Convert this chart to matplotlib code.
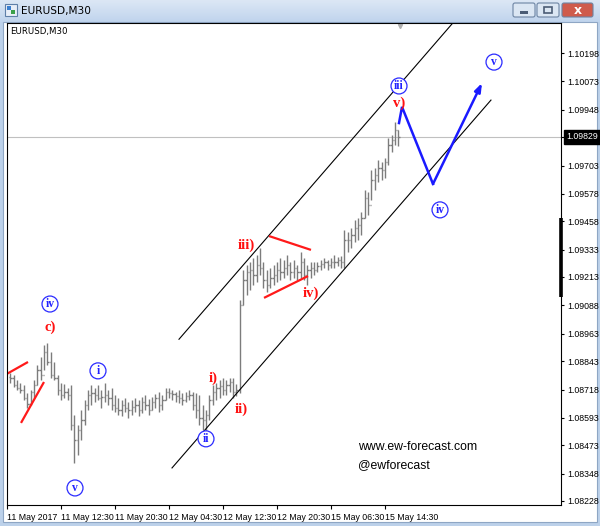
import matplotlib
matplotlib.use("Agg")
import matplotlib.pyplot as plt
import matplotlib.transforms as mtransforms
from matplotlib.patches import Rectangle, FancyBboxPatch
from matplotlib.colors import LinearSegmentedColormap
import numpy as np

# ---------------- data ----------------
bar_high = [1.08791, 1.08782, 1.08760, 1.08747, 1.08738, 1.08703, 1.08716, 1.08760, 1.08826, 1.08861,
            1.08914, 1.08923, 1.08883, 1.08839, 1.08782, 1.08747, 1.08743, 1.08725, 1.08738, 1.08606,
            1.08562, 1.08628, 1.08672, 1.08716, 1.08738, 1.08725, 1.08738, 1.08716, 1.08747, 1.08716,
            1.08725, 1.08694, 1.08681, 1.08672, 1.08681, 1.08663, 1.08672, 1.08681, 1.08672, 1.08685,
            1.08694, 1.08677, 1.08685, 1.08699, 1.08707, 1.08694, 1.08725, 1.08725, 1.08716, 1.08707,
            1.08716, 1.08703, 1.08707, 1.08716, 1.08707, 1.08703, 1.08694, 1.08650, 1.08628, 1.08694,
            1.08738, 1.08747, 1.08760, 1.08769, 1.08760, 1.08769, 1.08769, 1.08743, 1.09112, 1.09244,
            1.09266, 1.09279, 1.09297, 1.09310, 1.09341, 1.09279, 1.09244, 1.09253, 1.09266, 1.09279,
            1.09297, 1.09288, 1.09310, 1.09279, 1.09288, 1.09266, 1.09323, 1.09297, 1.09266, 1.09279,
            1.09279, 1.09279, 1.09288, 1.09297, 1.09288, 1.09297, 1.09310, 1.09301, 1.09305, 1.09420,
            1.09411, 1.09429, 1.09464, 1.09473, 1.09499, 1.09596, 1.09587, 1.09684, 1.09692, 1.09728,
            1.09719, 1.09736, 1.09824, 1.09837, 1.09895, 1.09859]
bar_low = [1.08747, 1.08729, 1.08716, 1.08703, 1.08672, 1.08637, 1.08650, 1.08681, 1.08738, 1.08760,
           1.08804, 1.08826, 1.08769, 1.08760, 1.08694, 1.08672, 1.08681, 1.08672, 1.08540, 1.08395,
           1.08430, 1.08496, 1.08562, 1.08628, 1.08650, 1.08663, 1.08672, 1.08637, 1.08663, 1.08650,
           1.08628, 1.08619, 1.08606, 1.08602, 1.08619, 1.08593, 1.08606, 1.08619, 1.08602, 1.08615,
           1.08628, 1.08606, 1.08628, 1.08637, 1.08619, 1.08628, 1.08672, 1.08681, 1.08672, 1.08663,
           1.08659, 1.08650, 1.08663, 1.08672, 1.08628, 1.08593, 1.08562, 1.08540, 1.08531, 1.08584,
           1.08650, 1.08672, 1.08681, 1.08694, 1.08694, 1.08707, 1.08681, 1.08690, 1.08703, 1.09090,
           1.09134, 1.09156, 1.09178, 1.09191, 1.09222, 1.09165, 1.09147, 1.09165, 1.09178, 1.09191,
           1.09200, 1.09209, 1.09222, 1.09200, 1.09209, 1.09200, 1.09209, 1.09200, 1.09178, 1.09209,
           1.09222, 1.09235, 1.09244, 1.09253, 1.09244, 1.09253, 1.09253, 1.09261, 1.09253, 1.09253,
           1.09323, 1.09341, 1.09367, 1.09376, 1.09398, 1.09473, 1.09486, 1.09552, 1.09596, 1.09631,
           1.09640, 1.09648, 1.09706, 1.09763, 1.09793, 1.09789]
bar_close = [1.08769, 1.08738, 1.08725, 1.08716, 1.08681, 1.08655, 1.08707, 1.08738, 1.08804, 1.08782,
             1.08883, 1.08839, 1.08782, 1.08769, 1.08716, 1.08694, 1.08707, 1.08694, 1.08562, 1.08496,
             1.08540, 1.08584, 1.08650, 1.08694, 1.08703, 1.08694, 1.08681, 1.08685, 1.08694, 1.08681,
             1.08650, 1.08637, 1.08628, 1.08650, 1.08637, 1.08628, 1.08641, 1.08650, 1.08628, 1.08663,
             1.08650, 1.08628, 1.08663, 1.08681, 1.08650, 1.08672, 1.08707, 1.08703, 1.08699, 1.08690,
             1.08681, 1.08672, 1.08690, 1.08694, 1.08650, 1.08628, 1.08593, 1.08584, 1.08606, 1.08672,
             1.08707, 1.08725, 1.08734, 1.08716, 1.08738, 1.08751, 1.08707, 1.08716, 1.09090, 1.09200,
             1.09235, 1.09244, 1.09222, 1.09266, 1.09253, 1.09200, 1.09178, 1.09209, 1.09222, 1.09244,
             1.09235, 1.09253, 1.09266, 1.09235, 1.09253, 1.09235, 1.09279, 1.09222, 1.09244, 1.09253,
             1.09244, 1.09261, 1.09270, 1.09279, 1.09266, 1.09279, 1.09279, 1.09288, 1.09279, 1.09376,
             1.09376, 1.09398, 1.09429, 1.09442, 1.09473, 1.09560, 1.09530, 1.09640, 1.09662, 1.09692,
             1.09684, 1.09719, 1.09793, 1.09815, 1.09859, 1.09829]
first_open = 1.08775
current_price = 1.09829

x_tick_pos = [0, 16, 32, 48, 64, 80, 96, 112]
x_tick_labels = ["11 May 2017", "11 May 12:30", "11 May 20:30", "12 May 04:30",
                 "12 May 12:30", "12 May 20:30", "15 May 06:30", "15 May 14:30"]
y_tick_vals = [1.10198, 1.10073, 1.09948, 1.09703, 1.09578, 1.09458, 1.09333, 1.09213,
               1.09088, 1.08963, 1.08843, 1.08718, 1.08593, 1.08473, 1.08348, 1.08228]

# channel lines (bar index, price)
upper_channel = ([50.96, 132.5], [1.08939, 1.10337])
lower_channel = ([48.89, 143.4], [1.08373, 1.09991])
red_lines = [([0.0, 6.22], [1.08787, 1.08839]),
             ([4.15, 10.96], [1.08571, 1.08751]),
             ([77.63, 90.07], [1.09393, 1.09332]),
             ([76.15, 89.19], [1.09121, 1.09217])]
blue_path_x = [116.15, 117.04, 126.22, 140.74]
blue_path_y = [1.09890, 1.09961, 1.09622, 1.10066]

circled_labels = [("iv", 12.74, 1.09094), ("i", 26.96, 1.08800), ("v", 20.15, 1.08285),
                  ("ii", 58.96, 1.08501), ("iii", 116.15, 1.10053), ("iv", 128.3, 1.09508),
                  ("v", 144.3, 1.10158)]
red_labels = [("c)", 12.74, 1.08993), ("i)", 61.04, 1.08769), ("ii)", 69.33, 1.08633),
              ("iii)", 70.8, 1.09354), ("iv)", 90.07, 1.09143), ("v)", 116.15, 1.09978)]

# ---------------- figure / window chrome ----------------
W, H = 600, 526
fig = plt.figure(figsize=(6.0, 5.26), dpi=100)
fig.patch.set_facecolor('#bcd1ea')

bg = fig.add_axes([0, 0, 1, 1])
bg.set_xlim(0, W)
bg.set_ylim(H, 0)
bg.axis('off')
grad = np.linspace(0, 1, 50).reshape(-1, 1)
cm = LinearSegmentedColormap.from_list('tb', ['#dce7f5', '#c0d4ed'])
bg.imshow(grad, extent=(0, W, 22, 0), cmap=cm, aspect='auto', zorder=0)
bg.add_patch(Rectangle((3, 22), 594, 500, facecolor='white', edgecolor='#8ea6c4', lw=0.8, zorder=1))
bg.add_patch(Rectangle((5, 4), 12, 12, facecolor='#e8eef8', edgecolor='#5f7fa8', lw=0.8, zorder=2))
bg.add_patch(Rectangle((7, 6), 4, 4, facecolor='#3a7fd0', edgecolor='none', zorder=3))
bg.add_patch(Rectangle((11, 10), 4, 4, facecolor='#3ca04a', edgecolor='none', zorder=3))
bg.text(21, 11, "EURUSD,M30", fontsize=7.6, family='DejaVu Sans', va='center', ha='left', color='black', zorder=3)
for (bx, bw, fc) in [(513, 22, '#dbe6f3'), (537, 22, '#dbe6f3'), (562, 31, '#cf5b4c')]:
    bg.add_patch(FancyBboxPatch((bx, 3), bw, 14, boxstyle='round,pad=0,rounding_size=2',
                                facecolor=fc, edgecolor='#6d84a3', lw=0.8, zorder=2))
bg.add_patch(Rectangle((520, 11), 8, 2.5, facecolor='#4b5c75', edgecolor='none', zorder=3))
bg.add_patch(Rectangle((544, 6.5), 8, 6.5, facecolor='none', edgecolor='#4b5c75', lw=1.2, zorder=3))
bg.text(577.5, 10.5, "x", fontsize=9, fontweight='bold', color='white', ha='center', va='center', zorder=3)

# ---------------- main chart ----------------
ax = fig.add_axes([7 / W, 1 - 505 / H, 554 / W, 482 / H], zorder=5)
ax.set_facecolor('white')
ax.set_xlim(0, 164.15)
ax.set_ylim(1.08210, 1.10330)
for s in ax.spines.values():
    s.set_color('black')
    s.set_linewidth(0.8)

n = len(bar_high)
xs = np.arange(1, n + 1)
opens = [first_open] + bar_close[:-1]
bar_col = '#7c7c7c'
ax.vlines(xs, bar_low, bar_high, color=bar_col, lw=1.0)
ax.hlines(opens, xs - 0.4, xs, color=bar_col, lw=1.0)
ax.hlines(bar_close, xs, xs + 0.4, color=bar_col, lw=1.0)

ax.axhline(current_price, color='#c0c0c0', lw=0.8, zorder=1)

ax.plot(*upper_channel, color='black', lw=0.8)
ax.plot(*lower_channel, color='black', lw=0.8)
for lx, ly in red_lines:
    ax.plot(lx, ly, color='#ff1a1a', lw=1.6, solid_capstyle='butt')

ax.plot(blue_path_x[:-1], blue_path_y[:-1], color='#1a1aff', lw=1.8, solid_joinstyle='miter')
ax.annotate('', xy=(blue_path_x[-1], blue_path_y[-1]), xytext=(blue_path_x[-2], blue_path_y[-2]),
            arrowprops=dict(arrowstyle='-|>,head_length=0.5,head_width=0.18', color='#1a1aff', lw=1.8,
                            shrinkA=0, shrinkB=0))

for txt, lx, ly in circled_labels:
    ax.text(lx, ly, txt, color='#2222ff', fontsize=8.4, family='Liberation Serif', fontweight='bold',
            ha='center', va='center',
            bbox=dict(boxstyle='circle,pad=0.17', facecolor='white', edgecolor='#2a2aff', lw=0.9))
for txt, lx, ly in red_labels:
    ax.text(lx, ly, txt, color='#ff1010', fontsize=10.5, family='Liberation Serif', fontweight='bold',
            ha='center', va='center')

ax.text(3 / 554, 1 - 8 / 482, "EURUSD,M30", transform=ax.transAxes, fontsize=6.2,
        family='DejaVu Sans', ha='left', va='center', color='black')
ax.text((358 - 7) / 554, 1 - (447 - 23) / 482, "www.ew-forecast.com", transform=ax.transAxes,
        fontsize=8.8, family='Liberation Sans', ha='left', va='center', color='black')
ax.text((358 - 7) / 554, 1 - (465 - 23) / 482, "@ewforecast", transform=ax.transAxes,
        fontsize=8.8, family='Liberation Sans', ha='left', va='center', color='black')

# chart-shift marker
ax.plot([116.5], [1.10330 - 0.00012], marker='v', color='#b0b0b0', markersize=3, clip_on=False)
# scroll block on right axis
ax.plot([164.05, 164.05], [1.09125, 1.09473], color='black', lw=2.6, clip_on=False,
        solid_capstyle='butt')

# ticks
ax.yaxis.tick_right()
ax.set_yticks(y_tick_vals)
ax.set_yticklabels([f"{v:.5f}" for v in y_tick_vals])
ax.tick_params(axis='y', direction='out', length=2.5, width=0.8, pad=2, labelsize=6.3,
               labelfontfamily='Liberation Sans')
ax.set_xticks(x_tick_pos)
ax.set_xticklabels(x_tick_labels)
for lab in ax.get_xticklabels():
    lab.set_horizontalalignment('left')
ax.tick_params(axis='x', direction='out', length=3, width=0.8, pad=2.5, labelsize=6.3,
               labelfontfamily='Liberation Sans')

# current price box
trans = mtransforms.blended_transform_factory(ax.transAxes, ax.transData)
ax.text(1.0 + 5 / 554, current_price, f"{current_price:.5f}", transform=trans, fontsize=6.3,
        family='Liberation Sans', color='white', ha='left', va='center', clip_on=False,
        bbox=dict(boxstyle='square,pad=0.25', facecolor='black', edgecolor='black'))
ax.plot([1.0, 1.0 + 3 / 554], [current_price, current_price], transform=trans, color='black',
        lw=0.8, clip_on=False)

fig.savefig('out.png', dpi=100, facecolor=fig.get_facecolor())
